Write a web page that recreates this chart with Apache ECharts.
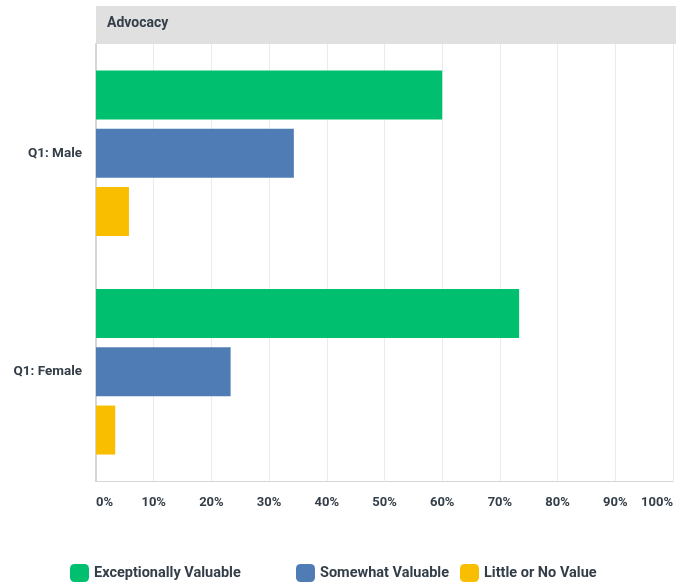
<!DOCTYPE html>
<html>
<head>
<meta charset="utf-8">
<script src="https://cdn.jsdelivr.net/npm/echarts@6/dist/echarts.min.js"></script>
<style>
  html, body { margin: 0; padding: 0; background: #fff; }
  #chart { width: 676px; height: 583px; }
</style>
</head>
<body>
<div id="chart"></div>
<script>
// Survey answers split by respondent group (percent of respondents)
const panelTitle = 'Advocacy';
const categories = ['Q1: Male', 'Q1: Female'];
const seriesNames = ['Exceptionally Valuable', 'Somewhat Valuable', 'Little or No Value'];
const exceptionallyValuable = [60.0, 73.33];
const somewhatValuable = [34.29, 23.33];
const littleOrNoValue = [5.71, 3.33];
const colors = ['#00bf6f', '#507cb6', '#f9be00'];

const textColor = '#333e48';
const fontFamily = 'Roboto, "Noto Sans", sans-serif';

const chart = echarts.init(document.getElementById('chart'));

const seriesValues = [exceptionallyValuable, somewhatValuable, littleOrNoValue];
// left edge of each legend entry (legend padding is 5px)
const legendLefts = [65, 291, 455];

chart.setOption({
  animation: false,
  textStyle: { fontFamily: fontFamily },
  grid: { left: 96, right: 0, top: 44, bottom: 102, containLabel: false },
  graphic: [
    {
      type: 'rect',
      left: 96, top: 6,
      shape: { width: 580, height: 38 },
      style: { fill: '#e0e0e0' },
      silent: true
    },
    {
      type: 'text',
      left: 107, top: 16,
      style: {
        text: panelTitle,
        fill: textColor,
        font: 'bold 14px ' + fontFamily
      },
      silent: true
    }
  ],
  legend: seriesNames.map((name, i) => ({
    top: 559,
    left: legendLefts[i],
    itemWidth: 19,
    itemHeight: 18,
    icon: 'roundRect',
    textStyle: { color: textColor, fontSize: 14.5, fontWeight: 'bold', fontFamily: fontFamily },
    data: [name]
  })),
  xAxis: {
    type: 'value',
    min: 0,
    max: 100,
    interval: 10,
    axisLine: { show: true, lineStyle: { color: '#d6d6d6', width: 1 } },
    axisTick: { show: false },
    splitLine: { show: true, lineStyle: { color: '#ebebeb', width: 1 } },
    axisLabel: {
      formatter: '{value}%',
      color: textColor,
      fontSize: 13,
      fontWeight: 'bold',
      margin: 15,
      alignMinLabel: 'left',
      alignMaxLabel: 'right'
    }
  },
  yAxis: {
    type: 'category',
    data: categories,
    inverse: true,
    axisLine: { show: true, lineStyle: { color: '#d6d6d6', width: 2 } },
    axisTick: { show: false },
    axisLabel: {
      color: textColor,
      fontSize: 13.5,
      fontWeight: 'bold',
      margin: 14
    }
  },
  series: seriesNames.map((name, i) => ({
    name: name,
    type: 'bar',
    data: seriesValues[i],
    barWidth: 49,
    barGap: '19%',
    itemStyle: { color: colors[i] },
    emphasis: { disabled: true }
  }))
});
</script>
</body>
</html>
